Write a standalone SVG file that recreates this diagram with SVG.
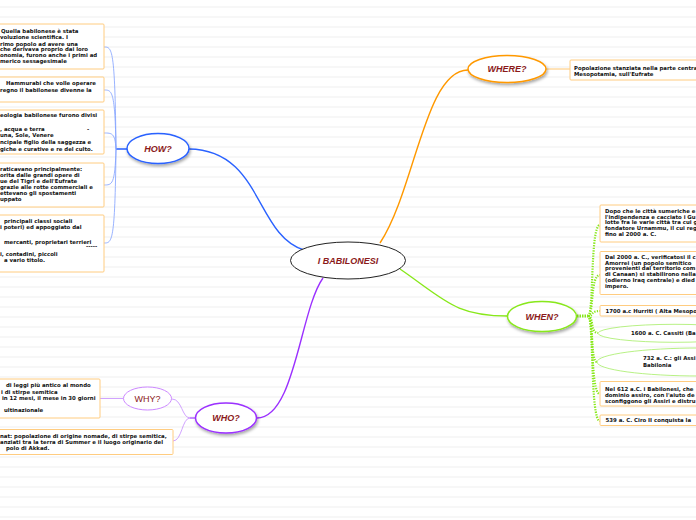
<svg xmlns="http://www.w3.org/2000/svg" width="696" height="520" viewBox="0 0 696 520">
<defs>
<pattern id="rule" width="696" height="10" patternUnits="userSpaceOnUse" y="2">
<line x1="0" y1="5" x2="696" y2="5" stroke="#efefef" stroke-width="1"/>
</pattern>
<filter id="sh" x="-20%" y="-30%" width="140%" height="170%">
<feDropShadow dx="1" dy="2" stdDeviation="1.4" flood-color="#000" flood-opacity="0.35"/>
</filter>
</defs>
<style>
.bx{fill:#fff;stroke:#ffcc80;stroke-width:1}
.t{font-family:"DejaVu Sans",Verdana,sans-serif;font-weight:bold;font-size:5.4px;fill:#111}
.lbl{font-family:"Liberation Sans",Arial,sans-serif;font-weight:bold;font-style:italic;font-size:9px;fill:#8b1a1a;text-anchor:middle}
.lbn{font-family:"Liberation Sans",Arial,sans-serif;font-size:9px;fill:#8b1a1a;text-anchor:middle}
.main{fill:none;stroke-width:1.4}
.thin{fill:none;stroke-width:0.8}
.dot{fill:none;stroke:#88e81a;stroke-width:2.2;stroke-dasharray:1.3 1.3}
</style>
<rect width="696" height="520" fill="#fff"/>
<rect width="696" height="520" fill="url(#rule)"/>

<g id="connectors">
<path class="main" stroke="#2a62ff" d="M189,149 C262,150 255,235 304,250"/>
<path class="main" stroke="#ff9900" d="M380,243 C415,190 425,70 468,70"/>
<path class="main" stroke="#88e81a" d="M400,269 C445,300 455,316 508,316"/>
<path class="main" stroke="#9b30ff" d="M323,278 C300,310 295,418 257,418"/>
<path fill="none" stroke="#5b86ff" stroke-width="2" d="M116,149 H127"/>
<path class="thin" stroke="#7fa0ff" d="M116,149 C115,47 112,47 104,47"/>
<path class="thin" stroke="#7fa0ff" d="M116,149 C115,90 112,90 104,90"/>
<path class="thin" stroke="#7fa0ff" d="M116,149 C115,133 112,133 104,133"/>
<path class="thin" stroke="#7fa0ff" d="M116,149 C115,185 112,185 104,185"/>
<path class="thin" stroke="#7fa0ff" d="M116,149 C115,243 112,243 104,243"/>
<path class="thin" stroke="#ffb84d" d="M546,69 H570"/>
<path fill="none" stroke="#88e81a" stroke-width="3" stroke-dasharray="1.5 1" d="M577,316 H588"/>
<path class="dot" d="M588,316 C594,316 590,225 600,225"/>
<path class="dot" d="M588,316 C594,316 590,275 600,275"/>
<path class="dot" d="M588,316 C594,316 590,311 600,311"/>
<path class="dot" d="M588,316 C594,316 590,333 598,333"/>
<path class="dot" d="M588,316 C594,316 590,362 597,362"/>
<path class="dot" d="M588,316 C594,316 590,394 600,394"/>
<path class="dot" d="M588,316 C594,316 590,421 600,421"/>
<path fill="none" stroke="#c58cff" stroke-width="2" d="M190,418 H196"/>
<path class="thin" stroke="#c58cff" d="M190,418 C182,418 182,399 172,399"/>
<path class="thin" stroke="#c58cff" d="M190,418 C182,418 182,441 173,441"/>
<path class="thin" stroke="#c58cff" d="M123.5,398.5 H100"/>
</g>

<g id="center">
<ellipse cx="348" cy="260.5" rx="57.5" ry="18.5" fill="#fff" stroke="#222" stroke-width="1"/>
<text class="lbl" x="348" y="264">I BABILONESI</text>
</g>

<g id="how">
<ellipse cx="158" cy="148.5" rx="31" ry="15" fill="#fff" stroke="#2a62ff" stroke-width="1.5" filter="url(#sh)"/>
<text class="lbl" x="158" y="151.5">HOW?</text>
</g>

<g id="where">
<ellipse cx="507" cy="69" rx="39" ry="13.5" fill="#fff" stroke="#ff9900" stroke-width="1.5" filter="url(#sh)"/>
<text class="lbl" x="507" y="72">WHERE?</text>
</g>

<g id="when">
<ellipse cx="542" cy="316.5" rx="34.5" ry="15" fill="#fff" stroke="#88e81a" stroke-width="1.5" filter="url(#sh)"/>
<text class="lbl" x="542" y="319.5">WHEN?</text>
</g>

<g id="who">
<ellipse cx="226" cy="418" rx="30.5" ry="15" fill="#fff" stroke="#9b30ff" stroke-width="1.5" filter="url(#sh)"/>
<text class="lbl" x="226" y="421">WHO?</text>
</g>

<g id="why">
<ellipse cx="147.5" cy="398.5" rx="24" ry="11.5" fill="#fff" stroke="#cc88ff" stroke-width="1"/>
<text class="lbn" x="147.5" y="401.5">WHY?</text>
</g>

<g id="how-1">
<rect class="bx" x="-5" y="24" width="109" height="45" rx="1"/>
<text class="t"><tspan x="1" y="33">Quella babilonese è stata</tspan><tspan x="0" y="39">voluzione scientifica. I</tspan><tspan x="0" y="45.5">rimo popolo ad avere una</tspan><tspan x="0" y="51.3">che derivava proprio dai loro</tspan><tspan x="0" y="57">onomia, furono anche i primi ad</tspan><tspan x="0" y="62.5">merico sessagesimale</tspan></text>
</g>
<g id="how-2">
<rect class="bx" x="-5" y="77" width="109" height="25" rx="1"/>
<text class="t"><tspan x="6" y="84.5">Hammurabi che volle operare</tspan><tspan x="0" y="91.5">regno il babilonese divenne la</tspan></text>
</g>
<g id="how-3">
<rect class="bx" x="-5" y="110" width="109" height="44" rx="1"/>
<text class="t"><tspan x="0" y="116.5">eologia babilonese furono divisi</tspan><tspan x="0" y="131">, acqua e terra</tspan><tspan x="87" y="131">-</tspan><tspan x="0" y="137">una, Sole, Venere</tspan><tspan x="0" y="144">ncipale figlio della saggezza e</tspan><tspan x="0" y="150.5">giche e curative e re del culto.</tspan></text>
</g>
<g id="how-4">
<rect class="bx" x="-5" y="163" width="109" height="44" rx="1"/>
<text class="t"><tspan x="0" y="171">raticavano principalmente:</tspan><tspan x="0" y="177">orita dalle grandi opere di</tspan><tspan x="0" y="183">ue del Tigri e dell'Eufrate</tspan><tspan x="0" y="189">grazie alle rotte commerciali e</tspan><tspan x="0" y="194.7">ettevano gli spostamenti</tspan><tspan x="0" y="200.5">uppato</tspan></text>
</g>
<g id="how-5">
<rect class="bx" x="-5" y="215" width="109" height="57" rx="1"/>
<text class="t"><tspan x="4" y="223">principali classi sociali</tspan><tspan x="0" y="229">i poteri) ed appoggiato dal</tspan><tspan x="4" y="243.5">mercanti, proprietari terrieri</tspan><tspan x="86" y="248">-----</tspan><tspan x="0" y="255.5">i, contadini, piccoli</tspan><tspan x="4" y="261.5">a vario titolo.</tspan></text>
</g>

<g id="where-1">
<rect class="bx" x="570" y="60" width="140" height="20" rx="1"/>
<text class="t"><tspan x="574" y="69.5">Popolazione stanziata nella parte centra</tspan><tspan x="574" y="76">Mesopotamia, sull'Eufrate</tspan></text>
</g>

<g id="when-1">
<rect class="bx" x="600" y="205" width="110" height="37" rx="1"/>
<text class="t"><tspan x="605" y="213">Dopo che le città sumeriche e</tspan><tspan x="605" y="218.7">l'indipendenza e cacciato i Gu</tspan><tspan x="605" y="224.3">lotte fra le varie città tra cui g</tspan><tspan x="605" y="230">fondatore Urnammu, il cui reg</tspan><tspan x="605" y="235.5">fino al 2000 a. C.</tspan></text>
</g>
<g id="when-2">
<rect class="bx" x="600" y="251.5" width="110" height="43" rx="1"/>
<text class="t"><tspan x="605" y="259.3">Dal 2000 a. C., verificatosi il c</tspan><tspan x="605" y="264.8">Amorrei (un popolo semitico</tspan><tspan x="605" y="270.4">provenienti dal territorio com</tspan><tspan x="605" y="276">di Canaan) si stabilirono nella</tspan><tspan x="605" y="282">(odierno Iraq centrale) e died</tspan><tspan x="605" y="287.7">impero.</tspan></text>
</g>
<g id="when-3">
<rect class="bx" x="600" y="305.5" width="110" height="10.5" rx="1"/>
<text class="t" x="605.5" y="312.6">1700 a.c Hurriti ( Alta Mesopo</text>
</g>
<g id="when-4">
<ellipse cx="675" cy="333.3" rx="77" ry="9" fill="#fff" stroke="#a6ee66" stroke-width="0.8"/>
<text class="t" x="631" y="335.3">1600 a. C. Cassiti (Ba</text>
</g>
<g id="when-5">
<ellipse cx="700" cy="362" rx="103" ry="14" fill="#fff" stroke="#a6ee66" stroke-width="0.8"/>
<text class="t"><tspan x="643" y="360.3">732 a. C.: gli Assi</tspan><tspan x="643" y="366.5">Babilonia</tspan></text>
</g>
<g id="when-6">
<rect class="bx" x="600" y="381.5" width="110" height="24.5" rx="1"/>
<text class="t"><tspan x="605" y="391">Nel 612 a.C. i Babilonesi, che</tspan><tspan x="605" y="397">dominio assiro, con l'aiuto de</tspan><tspan x="605" y="403">sconfiggono gli Assiri e distru</tspan></text>
</g>
<g id="when-7">
<rect class="bx" x="600" y="415" width="110" height="10.5" rx="1"/>
<text class="t" x="605.5" y="422.2">539 a. C. Ciro II conquista la</text>
</g>

<g id="why-1">
<rect class="bx" x="-5" y="379" width="105" height="39" rx="1"/>
<text class="t"><tspan x="6" y="387">di leggi più antico al mondo</tspan><tspan x="1" y="393.5">i di stirpe semitica</tspan><tspan x="2" y="400">in 12 mesi, il mese in 30 giorni</tspan><tspan x="4" y="412">ultinazionale</tspan></text>
</g>
<g id="who-1">
<rect class="bx" x="-5" y="429.5" width="178" height="25" rx="1"/>
<text class="t"><tspan x="0" y="438">nat: popolazione di origine nomade, di stirpe semitica,</tspan><tspan x="0" y="444">anziati tra la terra di Summer e il luogo originario del</tspan><tspan x="6" y="450">polo di Akkad.</tspan></text>
</g>
</svg>
